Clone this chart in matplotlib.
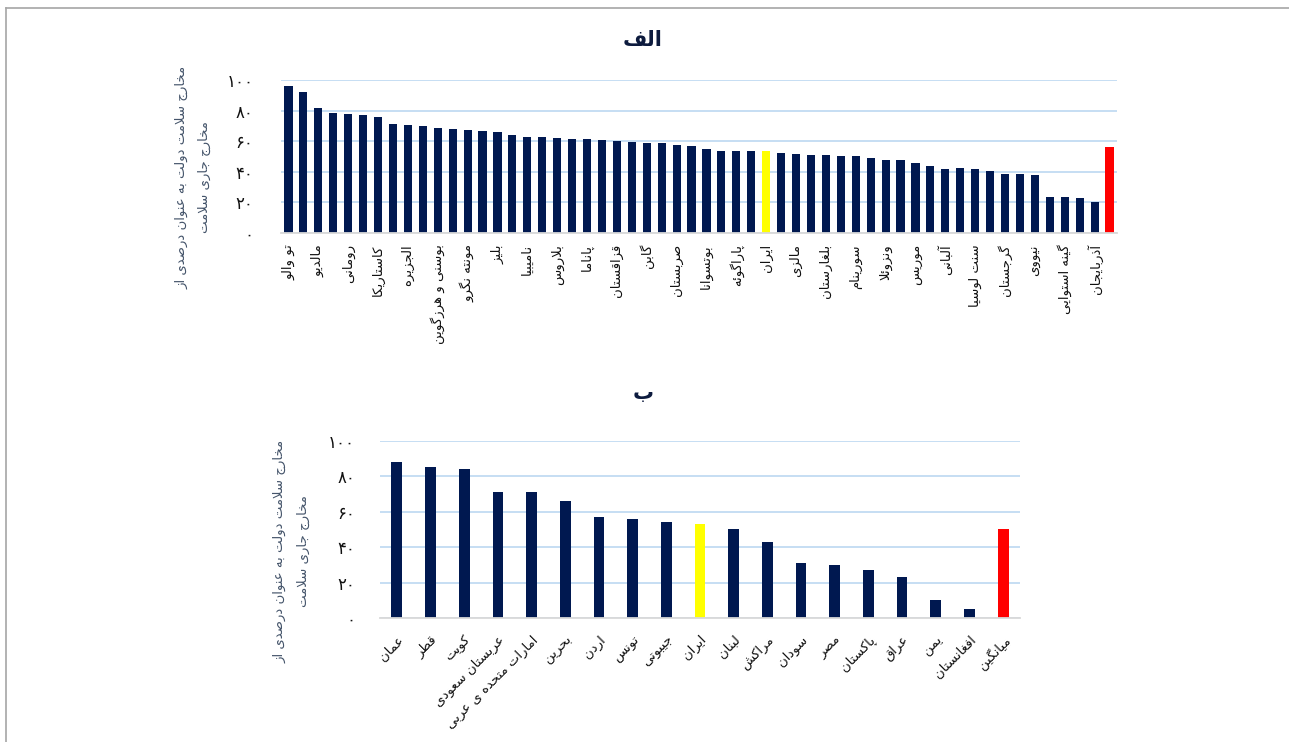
import matplotlib
matplotlib.use("Agg")
import matplotlib.pyplot as plt
from matplotlib.lines import Line2D

# ---------------- data ----------------
top_values = [96.1, 91.9, 81.4, 78.2, 77.5, 76.9, 75.8, 71.4, 70.3, 69.9,
              68.6, 67.9, 67.0, 66.6, 66.2, 63.8, 62.7, 62.7, 62.2, 61.6,
              61.4, 60.9, 60.0, 59.6, 58.7, 58.5, 57.4, 57.0, 55.0, 53.5,
              53.5, 53.3, 53.7, 52.0, 51.7, 51.3, 50.9, 50.2, 50.2, 49.3,
              47.6, 47.4, 45.6, 43.9, 42.1, 42.6, 41.7, 40.2, 38.4, 38.4,
              38.0, 23.8, 23.4, 23.1, 20.1, 56.1]
# labels shown on every other bar (positions 0, 2, 4, ...)
top_labels = ["تو والو", "مالدیو", "رومانی", "کاستاریکا", "الجزیره",
              "بوسنی و هرزگوین", "مونته نگرو", "بلیز", "نامیبیا", "بلاروس",
              "پاناما", "قزاقستان", "گابن", "صربستان", "بوتسوانا", "پاراگوئه",
              "ایران", "مالزی", "بلغارستان", "سورینام", "ونزوئلا", "موریس",
              "آلبانی", "سنت لوسیا", "گرجستان", "نیووی", "گینه استوایی",
              "آذربایجان"]
top_iran_index = 32

bottom_labels = ["عمان", "قطر", "کویت", "عربستان سعودی", "امارات متحده ی عربی",
                 "بحرین", "اردن", "تونس", "جیبوتی", "ایران", "لبنان", "مراکش",
                 "سودان", "مصر", "پاکستان", "عراق", "یمن", "افغانستان", "میانگین"]
bottom_values = [88.2, 85.3, 84.0, 71.2, 71.2, 66.2, 57.1, 56.2, 54.5, 53.2,
                 50.4, 43.0, 31.0, 29.9, 27.3, 23.1, 10.2, 4.9, 50.4]

y_ticks = [0, 20, 40, 60, 80, 100]
title_top = "الف"
title_bottom = "ب"
ylabel_lines = ["مخارج سلامت دولت به عنوان درصدی از", "مخارج جاری سلامت"]

# ---------------- minimal Persian shaping ----------------
FORMS = {
    'ا': (0xFE8D, 0xFE8E), 'آ': (0xFE81, 0xFE82), 'أ': (0xFE83, 0xFE84),
    'د': (0xFEA9, 0xFEAA), 'ذ': (0xFEAB, 0xFEAC), 'ر': (0xFEAD, 0xFEAE),
    'ز': (0xFEAF, 0xFEB0), 'ژ': (0xFB8A, 0xFB8B), 'و': (0xFEED, 0xFEEE),
    'ؤ': (0xFE85, 0xFE86), 'ة': (0xFE93, 0xFE94),
    'ب': (0xFE8F, 0xFE90, 0xFE91, 0xFE92), 'پ': (0xFB56, 0xFB57, 0xFB58, 0xFB59),
    'ت': (0xFE95, 0xFE96, 0xFE97, 0xFE98), 'ث': (0xFE99, 0xFE9A, 0xFE9B, 0xFE9C),
    'ج': (0xFE9D, 0xFE9E, 0xFE9F, 0xFEA0), 'چ': (0xFB7A, 0xFB7B, 0xFB7C, 0xFB7D),
    'ح': (0xFEA1, 0xFEA2, 0xFEA3, 0xFEA4), 'خ': (0xFEA5, 0xFEA6, 0xFEA7, 0xFEA8),
    'س': (0xFEB1, 0xFEB2, 0xFEB3, 0xFEB4), 'ش': (0xFEB5, 0xFEB6, 0xFEB7, 0xFEB8),
    'ص': (0xFEB9, 0xFEBA, 0xFEBB, 0xFEBC), 'ض': (0xFEBD, 0xFEBE, 0xFEBF, 0xFEC0),
    'ط': (0xFEC1, 0xFEC2, 0xFEC3, 0xFEC4), 'ظ': (0xFEC5, 0xFEC6, 0xFEC7, 0xFEC8),
    'ع': (0xFEC9, 0xFECA, 0xFECB, 0xFECC), 'غ': (0xFECD, 0xFECE, 0xFECF, 0xFED0),
    'ف': (0xFED1, 0xFED2, 0xFED3, 0xFED4), 'ق': (0xFED5, 0xFED6, 0xFED7, 0xFED8),
    'ک': (0xFB8E, 0xFB8F, 0xFB90, 0xFB91), 'گ': (0xFB92, 0xFB93, 0xFB94, 0xFB95),
    'ل': (0xFEDD, 0xFEDE, 0xFEDF, 0xFEE0), 'م': (0xFEE1, 0xFEE2, 0xFEE3, 0xFEE4),
    'ن': (0xFEE5, 0xFEE6, 0xFEE7, 0xFEE8), 'ه': (0xFEE9, 0xFEEA, 0xFEEB, 0xFEEC),
    'ی': (0xFBFC, 0xFBFD, 0xFBFE, 0xFBFF), 'ئ': (0xFE89, 0xFE8A, 0xFE8B, 0xFE8C),
}
LAMALEF = {'ا': (0xFEFB, 0xFEFC), 'آ': (0xFEF5, 0xFEF6), 'أ': (0xFEF7, 0xFEF8)}


def _shape_line(s):
    out = []
    i, n = 0, len(s)
    while i < n:
        c = s[i]
        if c not in FORMS:
            out.append(c)
            i += 1
            continue
        prev = s[i - 1] if i > 0 else None
        jp = prev is not None and prev in FORMS and len(FORMS[prev]) == 4
        if c == 'ل' and i + 1 < n and s[i + 1] in LAMALEF:
            lig = LAMALEF[s[i + 1]]
            out.append(chr(lig[1] if jp else lig[0]))
            i += 2
            continue
        nxt = s[i + 1] if i + 1 < n else None
        f = FORMS[c]
        jn = len(f) == 4 and nxt is not None and nxt in FORMS
        if jp and jn:
            g = f[3]
        elif jp:
            g = f[1]
        elif jn:
            g = f[2]
        else:
            g = f[0]
        out.append(chr(g))
        i += 1
    return ''.join(reversed(out))


def fa(s):
    return '\n'.join(_shape_line(line) for line in s.split('\n'))


def fa_num(v):
    return ''.join(chr(0x06F0 + int(d)) if d.isdigit() else d for d in str(v))


# ---------------- style ----------------
plt.rcParams['font.family'] = ['DejaVu Sans']
NAVY = '#001850'
GRID = '#C2DBF2'
LABEL_COL = '#44546A'

fig = plt.figure(figsize=(12.89, 7.42), dpi=100)
W, H = 1289, 742


def fx(px):
    return px / W


def fy(py):
    return 1 - py / H


def style_axes(ax, n, pad):
    ax.set_xlim(-0.5, n - 0.5)
    ax.set_ylim(0, 100)
    ax.set_yticks(y_ticks)
    ax.set_yticklabels([fa_num(t) for t in y_ticks], fontsize=12, color='#111111')
    ax.yaxis.grid(True, color=GRID, linewidth=1.3)
    ax.set_axisbelow(True)
    for s in ['top', 'right', 'left']:
        ax.spines[s].set_visible(False)
    ax.spines['bottom'].set_color('#D9D9D9')
    ax.spines['bottom'].set_linewidth(1.3)
    ax.tick_params(axis='both', length=0)
    ax.tick_params(axis='y', pad=pad)


# ---------------- top chart ----------------
ax1 = fig.add_axes([fx(281), fy(233), fx(1117 - 281), (233 - 80) / H])
n1 = len(top_values)
colors1 = [NAVY] * n1
colors1[top_iran_index] = '#FFFF00'
colors1[-1] = '#FF0000'
ax1.bar(range(n1), top_values, width=0.55, color=colors1)
style_axes(ax1, n1, 20)
ax1.set_xticks(range(0, 2 * len(top_labels), 2))
ax1.set_xticklabels([fa(l) for l in top_labels], rotation=90, fontsize=9.5,
                    color='#111111')
ax1.tick_params(axis='x', pad=8)

# ---------------- bottom chart ----------------
ax2 = fig.add_axes([fx(380), fy(618), fx(1020 - 380), (618 - 441) / H])
n2 = len(bottom_values)
colors2 = [NAVY] * n2
colors2[bottom_labels.index("ایران")] = '#FFFF00'
colors2[-1] = '#FF0000'
ax2.bar(range(n2), bottom_values, width=0.32, color=colors2)
style_axes(ax2, n2, 18)
ax2.set_xticks(range(n2))
ax2.set_xticklabels([fa(l) for l in bottom_labels], rotation=45, ha='right',
                    rotation_mode='anchor', fontsize=9.5, color='#111111')
ax2.tick_params(axis='x', pad=11)

# ---------------- titles & y labels ----------------
fig.text(fx(643), fy(40), fa(title_top), ha='center', va='center',
         fontsize=15, fontweight='bold', color='#0D1B3E')
fig.text(fx(643), fy(393), fa(title_bottom), ha='center', va='center',
         fontsize=15, fontweight='bold', color='#0D1B3E')

ylab = fa('\n'.join(ylabel_lines))
fig.text(fx(193), fy(177), ylab, rotation=90, ha='center', va='center',
         multialignment='center', fontsize=9.5, color=LABEL_COL, linespacing=2.0)
fig.text(fx(292), fy(551), ylab, rotation=90, ha='center', va='center',
         multialignment='center', fontsize=9.5, color=LABEL_COL, linespacing=2.0)

# ---------------- border lines ----------------
fig.add_artist(Line2D([fx(6), 1], [fy(8), fy(8)], color='#A6A6A6', linewidth=1.2,
                      transform=fig.transFigure))
fig.add_artist(Line2D([fx(6), fx(6)], [0, fy(8)], color='#A6A6A6', linewidth=1.2,
                      transform=fig.transFigure))

fig.savefig('out.png', dpi=100)
